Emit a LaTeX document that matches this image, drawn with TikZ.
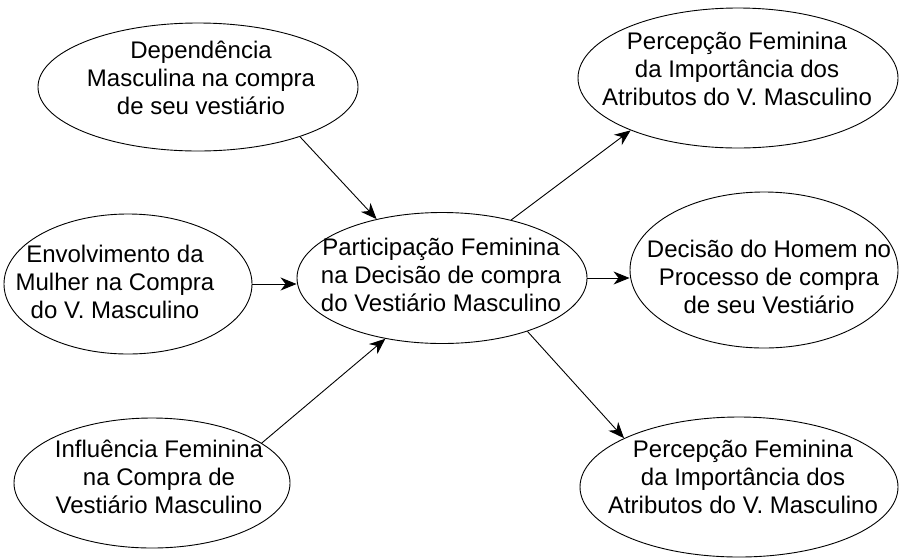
\documentclass[tikz,border=0pt]{standalone}
\usepackage{fontspec}
\setmainfont{Liberation Sans}
\usetikzlibrary{shapes.geometric,arrows.meta}
\begin{document}
\begin{tikzpicture}[x=1pt,y=-1pt,
  ell/.style={draw,ellipse,inner sep=0pt,line width=0.9pt},
  lbl/.style={align=center,inner sep=0pt,font=\fontsize{24}{28}\selectfont},
  conn/.style={line width=0.9pt,-{Stealth[length=16pt,width=13pt,inset=5pt]}}]
\useasboundingbox (0,0) rectangle (901,558);
% ellipses
\node[ell,minimum width=320pt,minimum height=128pt] (e1) at (198,87) {};
\node[ell,minimum width=248pt,minimum height=140pt] (e2) at (128,284) {};
\node[ell,minimum width=276pt,minimum height=130pt] (e3) at (152,483) {};
\node[ell,minimum width=290pt,minimum height=131pt] (c) at (442,278) {};
\node[ell,minimum width=320pt,minimum height=140pt] (e5) at (738,78) {};
\node[ell,minimum width=268pt,minimum height=156pt] (e6) at (764,270) {};
\node[ell,minimum width=318pt,minimum height=140pt] (e7) at (739,487) {};
% texts
\node[lbl] (t1) at (201,81) {\strut Dependência\\Masculina na compra\\de seu vestiário\strut};
\node[lbl] (t2) at (115,285) {\strut Envolvimento da\\Mulher na Compra\\do V. Masculino\strut};
\node[lbl] (t3) at (159,480) {\strut Influência Feminina\\na Compra de\\Vestiário Masculino\strut};
\node[lbl] (tc) at (441,278) {\strut Participação Feminina\\na Decisão de compra\\do Vestiário Masculino\strut};
\node[lbl] (t5) at (737,72) {\strut Percepção Feminina\\da Importância dos\\Atributos do V. Masculino\strut};
\node[lbl] (t6) at (769,280) {\strut Decisão do Homem no\\Processo de compra\\de seu Vestiário\strut};
\node[lbl] (t7) at (743,480) {\strut Percepção Feminina\\da Importância dos\\Atributos do V. Masculino\strut};
% connectors
\draw[conn] (e1.-26.6) -- (c.138);
\draw[conn] (e2.east) -- (e2.east -| c.west);
\draw[conn] (e3.20.5) -- (c.227.5);
\draw[conn] (c.40.5) -- (e5.206);
\draw[conn] (c.east) -- (c.east -| e6.west);
\draw[conn] (c.-32) -- (e7.157.6);
\end{tikzpicture}
\end{document}
